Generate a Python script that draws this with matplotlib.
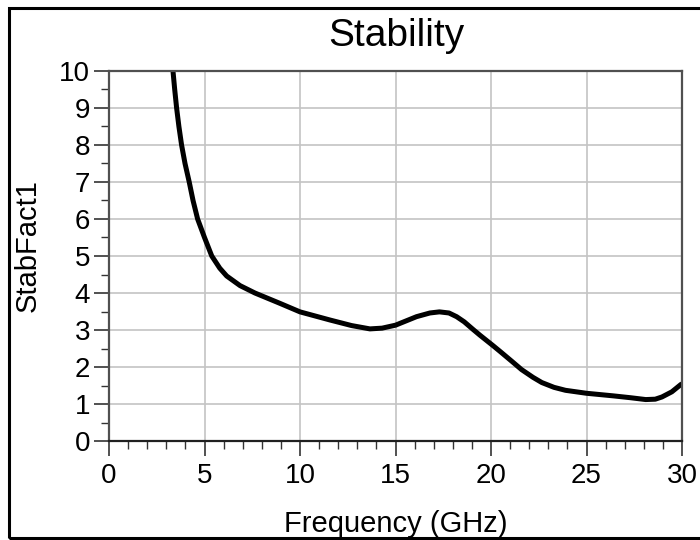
import matplotlib
matplotlib.use("Agg")
import matplotlib.pyplot as plt
from matplotlib.patches import Rectangle
from matplotlib.ticker import MultipleLocator

plt.rcParams['font.family'] = ['Liberation Sans', 'DejaVu Sans']

freq_ghz = [3.35, 3.44, 3.54, 3.66, 3.8, 3.98, 4.2, 4.4, 4.64, 5.0, 5.38, 5.8, 6.16,
            6.86, 7.64, 8.95, 10.0, 11.57, 12.7, 13.66, 14.3, 15.0, 16.1, 16.8, 17.3,
            17.8, 18.2, 18.6, 19.05, 19.42, 20.1, 20.5, 21.1, 21.6, 22.2, 22.66, 23.3,
            23.9, 25.0, 26.4, 27.3, 28.1, 28.6, 28.95, 29.47, 29.9, 30.0]
stab_fact = [10.0, 9.5, 9.0, 8.5, 8.0, 7.5, 7.0, 6.5, 6.0, 5.5, 5.0, 4.67, 4.46,
             4.2, 4.0, 3.72, 3.49, 3.27, 3.12, 3.03, 3.05, 3.13, 3.36, 3.46, 3.49,
             3.46, 3.36, 3.22, 3.02, 2.86, 2.58, 2.41, 2.15, 1.93, 1.72, 1.58, 1.45,
             1.37, 1.29, 1.22, 1.17, 1.12, 1.13, 1.19, 1.33, 1.51, 1.55]

x_ticks = [0, 5, 10, 15, 20, 25, 30]
y_ticks = [0, 1, 2, 3, 4, 5, 6, 7, 8, 9, 10]

fig = plt.figure(figsize=(7, 5.4), dpi=100)
ax = fig.add_axes([109/700, 1 - 441/540, (682 - 109)/700, (441 - 71)/540])

ax.plot(freq_ghz, stab_fact, color='black', lw=3.6, solid_capstyle='butt',
        solid_joinstyle='round', clip_on=True)

ax.set_xlim(0, 30)
ax.set_ylim(0, 10)
ax.set_xticks(x_ticks)
ax.set_yticks(y_ticks)
ax.xaxis.set_minor_locator(MultipleLocator(1))
ax.yaxis.set_minor_locator(MultipleLocator(0.5))
ax.tick_params(which='major', length=10.5, width=1.2, color='#333333', labelsize=20, pad=3)
ax.tick_params(axis='x', which='major', pad=5)
ax.tick_params(which='minor', length=6, width=1.0, color='#333333')
ax.grid(True, which='major', color='#c4c4c4', lw=1.2)
for s in ax.spines.values():
    s.set_color('#505050')
    s.set_linewidth(1.6)
ax.spines['bottom'].set_color('#202020')

fig.text(396/700, 1 - 36/540, 'Stability', fontsize=28, ha='center', va='center')
fig.text(396/700, 1 - 524/540, 'Frequency (GHz)', fontsize=21, ha='center', va='center')
fig.text(28/700, 1 - 246/540, 'StabFact1', fontsize=21, ha='center', va='center', rotation=90)

fig.patches.append(Rectangle((9/700, 2/540), 700/700, 530/540, transform=fig.transFigure,
                             fill=False, edgecolor='black', lw=2.2))

fig.savefig('out.png', dpi=100)
